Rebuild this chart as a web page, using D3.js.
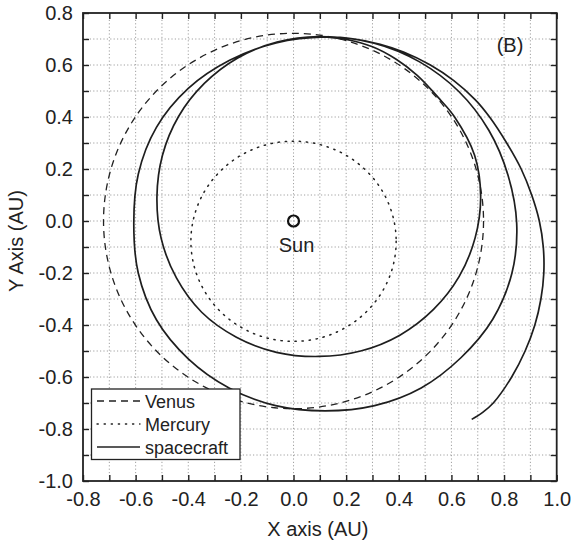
<!DOCTYPE html>
<html>
<head>
<meta charset="utf-8">
<script src="https://cdn.jsdelivr.net/npm/d3@7/dist/d3.min.js"></script>
<style>
  html, body { margin: 0; padding: 0; background: #fff; }
  svg { display: block; font-family: "Liberation Sans", Arial, Helvetica, sans-serif; }
</style>
</head>
<body>
<svg id="chart" width="573" height="544"></svg>
<script>
// Axis ranges and labelled ticks (AU)
const xDomain = [-0.8, 1.0];
const yDomain = [-1.0, 0.8];
const xTickValues = [-0.8, -0.6, -0.4, -0.2, 0.0, 0.2, 0.4, 0.6, 0.8, 1.0];
const yTickValues = [-1.0, -0.8, -0.6, -0.4, -0.2, 0.0, 0.2, 0.4, 0.6, 0.8];
const gridStep = 0.1;

// Planetary orbits as ellipses: centre and semi-axes (AU)
const venusOrbit = [0.0, 0.0, 0.722, 0.722];      // cx, cy, rx, ry
const mercuryOrbit = [0.0, -0.078, 0.39, 0.385];  // cx, cy, rx, ry

// Spacecraft trajectory (x, y in AU), spiralling inward counter-clockwise.
// First leg: departure, up the outer right-hand arc to aphelion.
const legOneX = [0.677, 0.720, 0.759, 0.829, 0.880, 0.917, 0.940, 0.951, 0.949, 0.934, 0.905, 0.865, 0.810, 0.745, 0.690, 0.609, 0.520, 0.418, 0.329, 0.232, 0.120];
const legOneY = [-0.763, -0.735, -0.700, -0.600, -0.500, -0.400, -0.300, -0.200, -0.100, 0.000, 0.100, 0.200, 0.300, 0.400, 0.467, 0.540, 0.600, 0.650, 0.680, 0.700, 0.708];
// Second revolution
const legTwoX = [-0.066, -0.243, -0.400, -0.521, -0.590, -0.607, -0.590, -0.521, -0.400, -0.245, -0.068, 0.120, 0.308, 0.485, 0.636, 0.757, 0.830, 0.848, 0.815, 0.742, 0.628, 0.479, 0.306];
const legTwoY = [0.685, 0.618, 0.510, 0.360, 0.180, -0.010, -0.200, -0.380, -0.530, -0.642, -0.710, -0.730, -0.710, -0.642, -0.526, -0.378, -0.200, -0.010, 0.176, 0.349, 0.498, 0.612, 0.684];
// Third revolution
const legThreeX = [0.096, -0.063, -0.212, -0.339, -0.437, -0.498, -0.519, -0.503, -0.445, -0.349, -0.217, -0.065, 0.096, 0.255, 0.404, 0.531, 0.629, 0.690, 0.711, 0.688, 0.612, 0.557, 0.470, 0.390, 0.300, 0.200, 0.096];
const legThreeY = [0.709, 0.688, 0.627, 0.529, 0.402, 0.253, 0.094, -0.067, -0.219, -0.351, -0.447, -0.505, -0.521, -0.500, -0.439, -0.341, -0.214, -0.065, 0.094, 0.253, 0.400, 0.467, 0.560, 0.622, 0.670, 0.698, 0.709];

const sunPosition = [0.0, 0.0];
const legendLabels = ["Venus", "Mercury", "spacecraft"];

const svg = d3.select("#chart");
const plotLeft = 83, plotRight = 556.7, plotTop = 13, plotBottom = 481;

const x = d3.scaleLinear().domain(xDomain).range([plotLeft, plotRight]);
const y = d3.scaleLinear().domain(yDomain).range([plotBottom, plotTop]);

const gridX = d3.range(xDomain[0], xDomain[1] + 1e-9, gridStep);
const gridY = d3.range(yDomain[0], yDomain[1] + 1e-9, gridStep);

// Dotted grid
const grid = svg.append("g").attr("stroke", "#a0a0a0").attr("stroke-width", 1)
  .attr("stroke-dasharray", "1.2,2.2");
grid.selectAll("line.gx").data(gridX.slice(1, -1)).join("line")
  .attr("x1", d => x(d)).attr("x2", d => x(d)).attr("y1", plotTop).attr("y2", plotBottom);
grid.selectAll("line.gy").data(gridY.slice(1, -1)).join("line")
  .attr("x1", plotLeft).attr("x2", plotRight).attr("y1", d => y(d)).attr("y2", d => y(d));

// Axes with inward ticks on all four sides
const tickLen = 6;
const axisStyle = g => {
  g.select(".domain").remove();
  g.selectAll(".tick line").attr("stroke", "#222").attr("stroke-width", 1.4);
  g.selectAll(".tick text").attr("fill", "#222").attr("font-size", 20)
    .attr("font-family", "'Liberation Sans', Arial, sans-serif");
};
const isLabelled = (vals, d) => vals.some(v => Math.abs(v - d) < 1e-6);
const label = d => (Math.abs(d) < 1e-9 ? 0 : d).toFixed(1);
svg.append("g").attr("transform", `translate(0,${plotBottom})`)
  .call(d3.axisBottom(x).tickValues(gridX).tickSize(-tickLen).tickPadding(11)
    .tickFormat(d => isLabelled(xTickValues, d) ? label(d) : ""))
  .call(axisStyle);
svg.append("g").attr("transform", `translate(0,${plotTop})`)
  .call(d3.axisTop(x).tickValues(gridX).tickSize(-tickLen).tickFormat(""))
  .call(axisStyle);
svg.append("g").attr("transform", `translate(${plotLeft},0)`)
  .call(d3.axisLeft(y).tickValues(gridY).tickSize(-tickLen).tickPadding(10)
    .tickFormat(d => isLabelled(yTickValues, d) ? label(d) : ""))
  .call(axisStyle);
svg.append("g").attr("transform", `translate(${plotRight},0)`)
  .call(d3.axisRight(y).tickValues(gridY).tickSize(-tickLen).tickFormat(""))
  .call(axisStyle);

// Frame
svg.append("rect").attr("x", plotLeft).attr("y", plotTop)
  .attr("width", plotRight - plotLeft).attr("height", plotBottom - plotTop)
  .attr("fill", "none").attr("stroke", "#222").attr("stroke-width", 1.8);

const plot = svg.append("g");

// Venus orbit (dashed)
plot.append("ellipse")
  .attr("cx", x(venusOrbit[0])).attr("cy", y(venusOrbit[1]))
  .attr("rx", x(venusOrbit[2]) - x(0)).attr("ry", y(0) - y(venusOrbit[3]))
  .attr("fill", "none").attr("stroke", "#222").attr("stroke-width", 1.3)
  .attr("stroke-dasharray", "7,5");

// Mercury orbit (dotted)
plot.append("ellipse")
  .attr("cx", x(mercuryOrbit[0])).attr("cy", y(mercuryOrbit[1]))
  .attr("rx", x(mercuryOrbit[2]) - x(0)).attr("ry", y(0) - y(mercuryOrbit[3]))
  .attr("fill", "none").attr("stroke", "#222").attr("stroke-width", 1.5)
  .attr("stroke-dasharray", "1.3,5.8").attr("stroke-linecap", "round");

// Spacecraft trajectory
const toPoints = (xs, ys) => xs.map((v, i) => [v, ys[i]]);
const pts = [
  ...toPoints(legOneX, legOneY),
  ...toPoints(legTwoX, legTwoY),
  ...toPoints(legThreeX, legThreeY)
];
const line = d3.line().x(d => x(d[0])).y(d => y(d[1])).curve(d3.curveCatmullRom.alpha(0.5));
plot.append("path").datum(pts).attr("d", line)
  .attr("fill", "none").attr("stroke", "#1e1e1e").attr("stroke-width", 1.7)
  .attr("stroke-linejoin", "round");

// Sun
plot.append("circle").attr("cx", x(sunPosition[0])).attr("cy", y(sunPosition[1])).attr("r", 5.5)
  .attr("fill", "none").attr("stroke", "#111").attr("stroke-width", 2.2);
plot.append("text").attr("x", x(sunPosition[0]) + 3).attr("y", y(sunPosition[1]) + 31)
  .attr("text-anchor", "middle").attr("font-size", 20).attr("fill", "#222").text("Sun");

// Panel label
svg.append("text").attr("x", 510).attr("y", 52).attr("text-anchor", "middle")
  .attr("font-size", 20).attr("fill", "#222").text("(B)");

// Axis titles
svg.append("text").attr("x", (plotLeft + plotRight) / 2 - 2).attr("y", 536).attr("text-anchor", "middle")
  .attr("font-size", 20).attr("fill", "#222").text("X axis (AU)");
svg.append("text").attr("transform", `translate(23,${(plotTop + plotBottom) / 2 - 6}) rotate(-90)`)
  .attr("text-anchor", "middle").attr("font-size", 20).attr("fill", "#222").text("Y Axis (AU)");

// Legend
const lg = svg.append("g");
lg.append("rect").attr("x", 91.5).attr("y", 389).attr("width", 148.5).attr("height", 70.5)
  .attr("fill", "#fff").attr("stroke", "#222").attr("stroke-width", 1.3);
const dashes = ["7,5", "1.3,5.8", null];
legendLabels.forEach((name, i) => {
  const ly = 401 + i * 23;
  const l = lg.append("line").attr("x1", 97).attr("x2", 140).attr("y1", ly).attr("y2", ly)
    .attr("stroke", "#222").attr("stroke-width", i === 2 ? 1.5 : 1.3);
  if (dashes[i]) l.attr("stroke-dasharray", dashes[i]);
  if (i === 1) l.attr("stroke-linecap", "round");
  lg.append("text").attr("x", 145).attr("y", ly + 6.5).attr("font-size", 18)
    .attr("fill", "#222").text(name);
});
</script>
</body>
</html>
